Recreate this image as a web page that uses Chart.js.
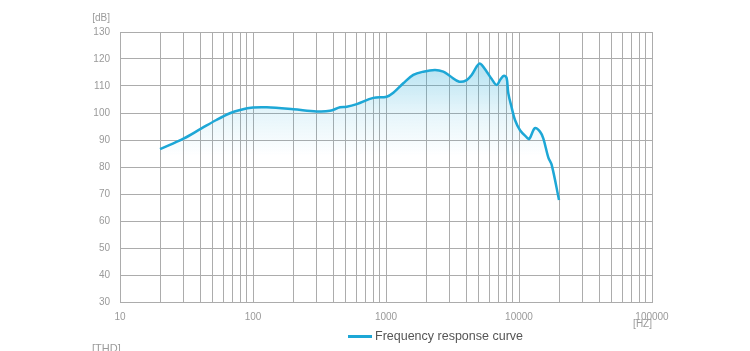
<!DOCTYPE html>
<html>
<head>
<meta charset="utf-8">
<script src="https://cdn.jsdelivr.net/npm/chart.js@4/dist/chart.umd.min.js"></script>
<style>
  html, body { margin: 0; padding: 0; background: #fff; }
  #wrap { width: 750px; height: 351px; }
</style>
</head>
<body>
<div id="wrap"><canvas id="fr"></canvas></div>
<script>
// frequency (Hz) and level (dB)
const freqs = [20, 30, 41, 53, 67, 80, 100, 127, 201, 301, 379, 451, 507, 603, 803,
    1012, 1135, 1349, 1604, 1907, 2334, 2697, 3027, 3556, 4043, 4407, 4808, 5030,
    5245, 5718, 6233, 6797, 7284, 7709, 8077, 8310, 8810, 9330, 10180, 11430,
    11950, 13180, 14380, 15230, 16600, 17610, 19990];
const levels = [86.6, 90.5, 94.3, 97.4, 99.9, 101.1, 102.0, 102.1, 101.4, 100.6, 100.8,
    102.1, 102.3, 103.3, 105.6, 106.0, 107.5, 111.0, 114.1, 115.3, 115.9, 115.3,
    113.7, 111.6, 112.2, 114.1, 117.2, 118.3, 117.8, 115.3, 112.6, 110.4, 112.6,
    113.8, 112.9, 107.3, 102.0, 97.4, 93.6, 91.0, 90.4, 94.4, 93.1, 90.6, 83.6,
    80.8, 67.8];
const yTicks = [30, 40, 50, 60, 70, 80, 90, 100, 110, 120, 130];
const decades = [10, 100, 1000, 10000];
const multipliers = [1, 2, 3, 4, 5, 6, 7, 8, 9];
const seriesName = "Frequency response curve";

const xTicks = [];
decades.forEach((d) => multipliers.forEach((m) => xTicks.push(d * m)));
xTicks.push(100000);

const lineColor = "rgb(29,167,214)";
const gridColor = "#acacac";
const labelColor = "#9a9a9a";
const narrow = "'Liberation Sans Narrow', 'Liberation Sans', Arial, sans-serif";

const extraText = {
    id: "extraText",
    afterDraw(chart) {
        const ctx = chart.ctx;
        const area = chart.chartArea;
        ctx.save();
        ctx.fillStyle = labelColor;
        ctx.font = "10px " + narrow;
        ctx.textBaseline = "middle";
        ctx.textAlign = "right";
        ctx.fillText("[dB]", 110, 18);
        ctx.fillText("[HZ]", area.right, 324);
        ctx.textAlign = "left";
        ctx.font = "11px " + narrow;
        ctx.fillText("[THD]", 92, 349);

        // legend
        ctx.strokeStyle = lineColor;
        ctx.lineWidth = 3;
        ctx.beginPath();
        ctx.moveTo(348, 336.5);
        ctx.lineTo(372, 336.5);
        ctx.stroke();
        ctx.fillStyle = "#555";
        ctx.font = "12.5px 'Liberation Sans', Arial, sans-serif";
        ctx.fillText(seriesName, 375, 337);
        ctx.restore();
    },
};

new Chart(document.getElementById("fr"), {
    type: "line",
    data: {
        labels: freqs,
        datasets: [
            {
                label: seriesName,
                data: freqs.map((f, i) => ({ x: f, y: levels[i] })),
                borderColor: lineColor,
                borderWidth: 2.5,
                pointRadius: 0,
                tension: 0.35,
                fill: "start",
                backgroundColor: (context) => {
                    const chart = context.chart;
                    if (!chart.chartArea) return "rgba(29,167,214,0.15)";
                    const y = chart.scales.y;
                    const g = chart.ctx.createLinearGradient(0, y.getPixelForValue(118), 0, y.getPixelForValue(84));
                    g.addColorStop(0, "rgba(29,167,214,0.32)");
                    g.addColorStop(0.5, "rgba(29,167,214,0.12)");
                    g.addColorStop(1, "rgba(29,167,214,0)");
                    return g;
                },
            },
        ],
    },
    options: {
        responsive: true,
        maintainAspectRatio: false,
        animation: false,
        layout: { padding: { top: 32, right: 98, left: 0, bottom: 0 } },
        plugins: {
            legend: { display: false },
            tooltip: { enabled: false },
        },
        scales: {
            x: {
                type: "logarithmic",
                min: 10,
                max: 100000,
                afterBuildTicks: (scale) => {
                    scale.ticks = xTicks.map((v) => ({ value: v }));
                },
                afterFit: (scale) => {
                    scale.height = 49;
                },
                grid: { color: gridColor, lineWidth: 1, drawTicks: false },
                border: { color: gridColor },
                ticks: {
                    autoSkip: false,
                    maxRotation: 0,
                    padding: 9,
                    color: labelColor,
                    font: { family: narrow, size: 10 },
                    callback: (value) => {
                        const p = Math.log10(value);
                        return Math.abs(p - Math.round(p)) < 1e-9 ? String(value) : "";
                    },
                },
            },
            y: {
                min: 30,
                max: 130,
                afterBuildTicks: (scale) => {
                    scale.ticks = yTicks.map((v) => ({ value: v }));
                },
                afterFit: (scale) => {
                    scale.width = 120;
                },
                grid: { color: gridColor, lineWidth: 1, drawTicks: false },
                border: { color: gridColor },
                ticks: {
                    padding: 10,
                    color: labelColor,
                    font: { family: narrow, size: 10 },
                },
            },
        },
    },
    plugins: [extraText],
});
</script>
</body>
</html>
